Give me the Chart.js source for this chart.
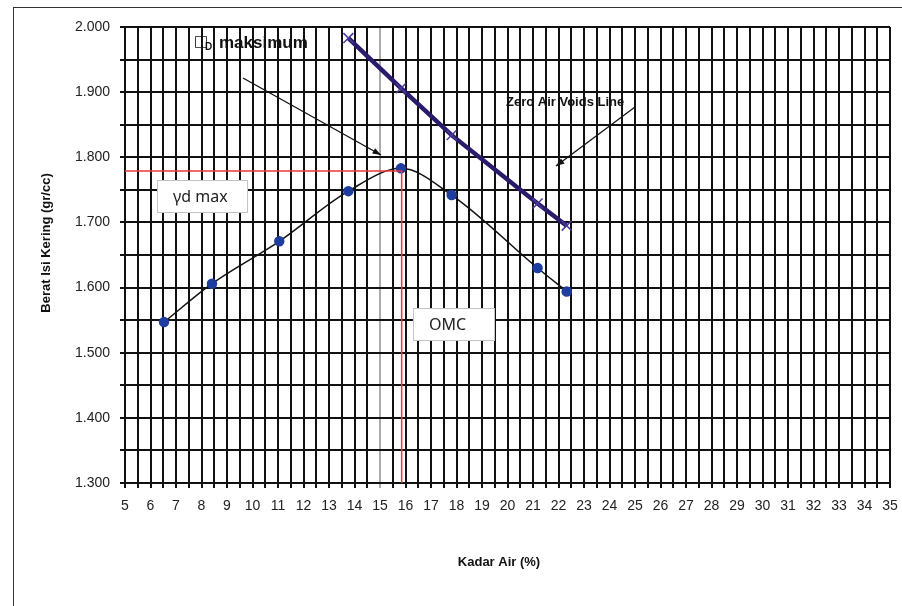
<!DOCTYPE html>
<html>
<head>
<meta charset="utf-8">
<script src="https://cdn.jsdelivr.net/npm/chart.js@4/dist/chart.umd.min.js"></script>
<style>
  body { margin: 0; background: #fff; }
  canvas { display: block; }
</style>
</head>
<body>
<canvas id="proctor" width="902" height="606"></canvas>
<script>
// compaction test data
var kadarAir = [6.53, 8.41, 11.05, 13.76, 15.82, 17.81, 21.18, 22.32]
var beratKering = [1.547, 1.606, 1.671, 1.748, 1.783, 1.742, 1.630, 1.594]

// zero air voids
var zavAir = [13.76, 15.82, 17.81, 21.18, 22.32]
var zavBerat = [1.983, 1.906, 1.834, 1.729, 1.695]

var omc = 15.85
var gdMax = 1.779

function pts(xs, ys) {
    return xs.map(function (x, i) { return { x: x, y: ys[i] } })
}

function arrow(ctx, x1, y1, x2, y2) {
    ctx.beginPath()
    ctx.moveTo(x1, y1)
    ctx.lineTo(x2, y2)
    ctx.stroke()
    var a = Math.atan2(y2 - y1, x2 - x1)
    ctx.beginPath()
    ctx.moveTo(x2, y2)
    ctx.lineTo(x2 - 9 * Math.cos(a - 0.35), y2 - 9 * Math.sin(a - 0.35))
    ctx.lineTo(x2 - 9 * Math.cos(a + 0.35), y2 - 9 * Math.sin(a + 0.35))
    ctx.closePath()
    ctx.fill()
}

function box(ctx, x, y, w, h, text) {
    ctx.fillStyle = '#fff'
    ctx.fillRect(x, y, w, h)
    ctx.strokeStyle = '#c4c4c4'
    ctx.lineWidth = 1
    ctx.strokeRect(x + 0.5, y + 0.5, w, h)
    ctx.fillStyle = '#222'
    ctx.font = '16px "Noto Sans"'
    ctx.textBaseline = 'middle'
    ctx.textAlign = 'left'
    ctx.fillText(text, x + 16, y + h / 2 + 1)
}

var extras = {
    id: 'extras',
    beforeDraw: function (chart) {
        var ctx = chart.ctx
        ctx.save()
        ctx.fillStyle = '#fff'
        ctx.fillRect(0, 0, chart.width, chart.height)
        ctx.strokeStyle = '#333'
        ctx.lineWidth = 1
        ctx.strokeRect(13.5, 7.5, 890, 620)
        ctx.restore()
    },
    afterDraw: function (chart) {
        var ctx = chart.ctx
        ctx.save()
        // axis titles
        ctx.fillStyle = '#111'
        ctx.font = 'bold 13px "Liberation Sans"'
        ctx.textAlign = 'center'
        ctx.textBaseline = 'middle'
        ctx.fillText('Kadar Air (%)', 499, 562)
        ctx.save()
        ctx.translate(46, 243)
        ctx.rotate(-Math.PI / 2)
        ctx.fillText('Berat Isi Kering (gr/cc)', 0, 0)
        ctx.restore()

        box(ctx, 157, 180, 90, 32, 'γd max')
        box(ctx, 413, 308, 81, 32, 'OMC')

        // labels and arrows
        ctx.fillStyle = '#111'
        ctx.strokeStyle = '#111'
        ctx.lineWidth = 1.3
        ctx.textAlign = 'left'
        ctx.textBaseline = 'middle'
        ctx.font = '15px "DejaVu Sans"'
        ctx.fillText('□', 194, 42)
        ctx.font = 'bold 10px "Liberation Sans"'
        ctx.fillText('D', 205, 47)
        ctx.font = 'bold 17px "Liberation Sans"'
        ctx.fillText('maksimum', 219, 43)
        arrow(ctx, 243, 78, 381, 155)

        ctx.font = 'bold 13px "Liberation Sans"'
        ctx.fillText('Zero Air Voids Line', 506, 102)
        arrow(ctx, 635, 107, 556, 166)
        ctx.restore()
    }
}

new Chart(document.getElementById('proctor'), {
    type: 'scatter',
    data: {
        datasets: [
            {
                data: pts([5, omc, omc], [gdMax, gdMax, 1.3]),
                showLine: true,
                borderColor: '#e8393a',
                borderWidth: 1.5,
                pointRadius: 0
            },
            {
                data: pts(zavAir, zavBerat),
                showLine: true,
                borderColor: '#2b1a6b',
                borderWidth: 4.5,
                pointStyle: 'crossRot',
                pointRadius: 7,
                pointBorderWidth: 1.5,
                pointBorderColor: '#4a3a9a'
            },
            {
                data: pts(kadarAir, beratKering),
                showLine: true,
                borderColor: '#111',
                borderWidth: 1.5,
                cubicInterpolationMode: 'monotone',
                pointRadius: 4.5,
                pointBackgroundColor: '#1f3d9e',
                pointBorderColor: '#1f3d9e'
            }
        ]
    },
    options: {
        responsive: false,
        animation: false,
        layout: { padding: { left: 0, top: 27, right: 12, bottom: 0 } },
        plugins: {
            legend: { display: false },
            tooltip: { enabled: false }
        },
        scales: {
            x: {
                min: 5,
                max: 35,
                afterFit: function (s) {
                    s.height = 123
                    s.paddingLeft = 0
                    s.paddingRight = 0
                },
                ticks: {
                    stepSize: 0.5,
                    autoSkip: false,
                    maxRotation: 0,
                    padding: 10,
                    color: '#222',
                    font: { family: '"Liberation Sans"', size: 14 },
                    callback: function (v) { return v % 1 === 0 ? v : '' }
                },
                grid: {
                    color: function (c) { return c.tick && c.tick.value === 15 ? '#aaa' : '#111' },
                    lineWidth: 2,
                    tickLength: 5
                },
                border: { display: false }
            },
            y: {
                min: 1.3,
                max: 2.0,
                afterFit: function (s) {
                    s.width = 125
                    s.paddingTop = 0
                    s.paddingBottom = 0
                },
                ticks: {
                    stepSize: 0.05,
                    padding: 10,
                    color: '#222',
                    font: { family: '"Liberation Sans"', size: 14 },
                    callback: function (v) {
                        return Math.round(v * 1000) % 100 === 0 ? v.toFixed(3) : ''
                    }
                },
                grid: {
                    color: '#111',
                    lineWidth: 2,
                    tickLength: 5
                },
                border: { display: false }
            }
        }
    },
    plugins: [extras]
});
</script>
</body>
</html>
